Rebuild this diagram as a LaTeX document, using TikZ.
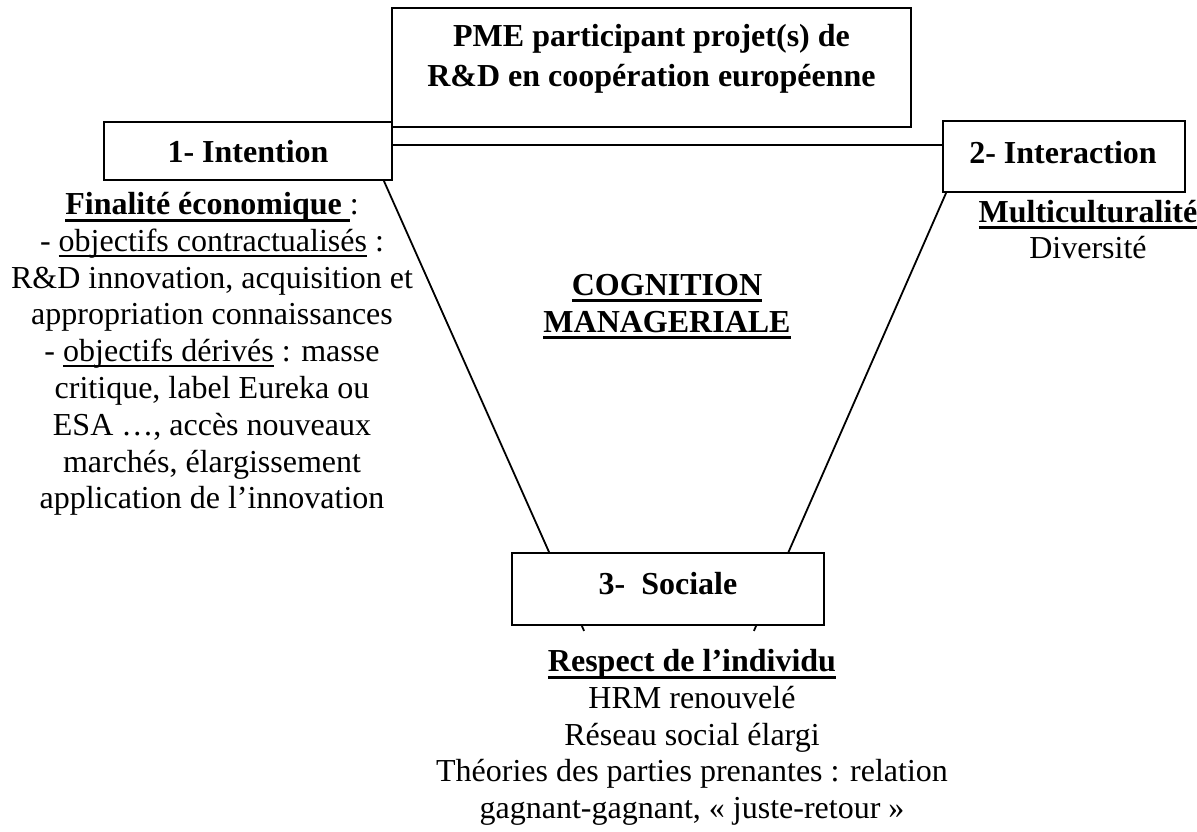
\documentclass[tikz,border=0pt]{standalone}
\usepackage{fontspec}
\setmainfont{Liberation Serif}
\usetikzlibrary{backgrounds,calc}

% underline drawn at a fixed depth below the baseline (crosses descenders)
\newcommand\ulreg[1]{\setbox0\hbox{#1}\rlap{\rule[-5.5bp]{\wd0}{1.8bp}}\box0\relax}
\newcommand\ulbold[1]{\setbox0\hbox{#1}\rlap{\rule[-7.2bp]{\wd0}{3bp}}\box0\relax}

\begin{document}
\begin{tikzpicture}[x=1bp,y=-1bp,line width=1.8bp,
  frame/.style={draw,fill=white,inner sep=0pt,line width=1.8bp},
  link/.style={draw,line width=1.8bp},
  txt/.style={anchor=base,inner sep=0pt,font=\fontsize{32bp}{36.8bp}\selectfont},
  btxt/.style={anchor=base,inner sep=0pt,font=\fontsize{32bp}{36.8bp}\selectfont\bfseries}]

\useasboundingbox (0,0) rectangle (1197,832);

% boxes
\node[frame,minimum width=519bp,minimum height=119bp] (pme) at (651.5,67.5) {};
\node[frame,minimum width=288bp,minimum height=58bp] (intention) at (248,151) {};
\node[frame,minimum width=242bp,minimum height=71bp] (interaction) at (1064,156.5) {};
\node[frame,minimum width=312bp,minimum height=72bp] (sociale) at (668,589) {};

% box titles
\node[btxt] (pme1) at (651.5,46) {PME participant projet(s) de};
\node[btxt] (pme2) at (651.5,86) {R\&D en coopération européenne};
\node[btxt] (tint) at (248,162) {1- Intention};
\node[btxt] (tinter) at (1063,163) {2- Interaction};
\node[btxt] (tsoc) at (668,594) {3-\ \ Sociale};

% connectors, kept behind the boxes
\begin{scope}[on background layer]
  \fill[white] (0,0) rectangle (1197,832);
  \path[link] ([yshift=6bp]intention.east) -- ([yshift=11.5bp]interaction.west);
  \path[link] ([xshift=-9bp]intention.south east) -- ($(sociale.south west)+(73,5)$);
  \path[link] ([xshift=4bp]interaction.south west) -- ($(sociale.south east)+(-71,5)$);
\end{scope}

% centre label
\node[btxt] (cog1) at (667,295) {\ulbold{COGNITION}};
\node[btxt] (cog2) at (667,332) {\ulbold{MANAGERIALE}};

% economic purpose
\foreach \ln [count=\i from 0] in {
  {\ulbold{\bfseries Finalité économique\ }:},
  {- \ulreg{objectifs contractualisés} :},
  {R\&D innovation, acquisition et},
  {appropriation connaissances},
  {- \ulreg{objectifs dérivés} : masse},
  {critique, label Eureka ou},
  {ESA …, accès nouveaux},
  {marchés, élargissement},
  {application de l’innovation}}
  \node[txt] (fin\i) at (212,214.5+36.8*\i) {\ln};

% interaction
\node[btxt] (multi) at (1088,222) {\ulbold{Multiculturalité}};
\node[txt] (div) at (1088,258.8) {Diversité};

% social
\foreach \ln [count=\i from 0] in {
  {\ulbold{\bfseries Respect de l’individu}},
  {HRM renouvelé},
  {Réseau social élargi},
  {Théories des parties prenantes : relation},
  {gagnant-gagnant, «~juste-retour~»}}
  \node[txt] (soc\i) at (692,671.8+36.7*\i) {\ln};

\end{tikzpicture}
\end{document}
